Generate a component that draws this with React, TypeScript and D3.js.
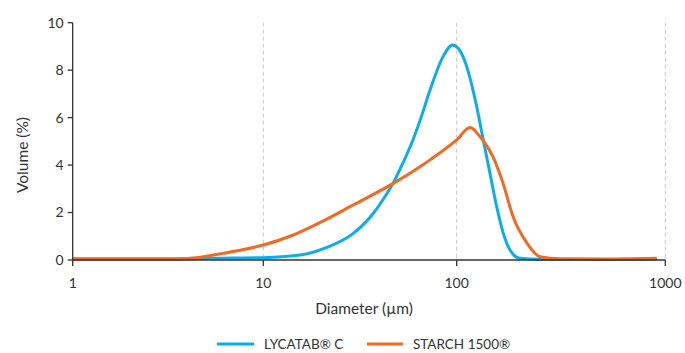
import React from "react";
import * as d3 from "d3";

const blueDiam = [1, 2.54, 4.66, 7.0, 10, 15.5, 21.3, 29.2, 37.1, 41.6, 47.0, 52.8, 59.4, 65.4, 72.8, 85.0, 95.3, 107.2, 111.7, 124.7, 134.1, 144.4, 155.5, 167.3, 180.1, 201.2, 250.7, 486, 912];
const blueVol = [0.05, 0.05, 0.06, 0.08, 0.1, 0.21, 0.53, 1.12, 1.97, 2.55, 3.25, 4.1, 5.06, 6.0, 7.16, 8.57, 9.06, 8.57, 8.15, 6.46, 5.06, 3.65, 2.25, 1.12, 0.42, 0.07, 0.03, 0.02, 0.03];

const orangeDiam = [1, 2.54, 3.24, 4.12, 4.94, 6.15, 8.0, 10, 13.74, 19.65, 29.2, 47.0, 64.6, 72.8, 100, 115.8, 129.3, 149.3, 166.7, 186.2, 217.3, 250.7, 313, 486, 910];
const orangeVol = [0.03, 0.03, 0.03, 0.07, 0.15, 0.28, 0.45, 0.63, 1.0, 1.58, 2.32, 3.23, 3.93, 4.22, 5.06, 5.58, 5.2, 4.35, 3.24, 1.83, 0.71, 0.14, 0.05, 0.04, 0.07];

const xTicks = [1, 10, 100, 1000];
const yTicks = [0, 2, 4, 6, 8, 10];
const seriesNames = ["LYCATAB® C", "STARCH 1500®"];
const colors = ["#0BAEE8", "#F26A22"];

const W = 685;
const H = 353;
const FONT = "Lato, 'Open Sans', sans-serif";

export default function App() {
  const x = d3.scaleLog().domain([1, 10, 100, 1000]).range([72.7, 263.3, 456.7, 665.3]);
  const y = d3.scaleLinear().domain([0, 10]).range([260, 22.7]);

  const line = d3
    .line<[number, number]>()
    .x((d) => x(d[0]))
    .y((d) => y(d[1]))
    .curve(d3.curveMonotoneX);

  const blue = blueDiam.map((d, i) => [d, blueVol[i]] as [number, number]);
  const orange = orangeDiam.map((d, i) => [d, orangeVol[i]] as [number, number]);

  const axisColor = "#333";
  const textColor = "#333";

  return (
    <svg width={W} height={H} style={{ position: "absolute", left: 0, top: 0, background: "#fff" }}>
      {xTicks.slice(1).map((t) => (
        <line key={"g" + t} x1={x(t)} x2={x(t)} y1={y(10)} y2={y(0)} stroke="#c8c8c8" strokeWidth={1} strokeDasharray="4,3" />
      ))}
      <path d={line(blue) || ""} fill="none" stroke={colors[0]} strokeWidth={3} strokeLinejoin="round" />
      <path d={line(orange) || ""} fill="none" stroke={colors[1]} strokeWidth={3} strokeLinejoin="round" />
      <line x1={x(1)} x2={x(1)} y1={y(10)} y2={y(0)} stroke={axisColor} strokeWidth={1.3} />
      <line x1={x(1)} x2={x(1000)} y1={y(0)} y2={y(0)} stroke={axisColor} strokeWidth={1.3} />
      {yTicks.map((t) => (
        <g key={"y" + t}>
          <line x1={x(1) - 5} x2={x(1)} y1={y(t)} y2={y(t)} stroke={axisColor} strokeWidth={1.3} />
          <text x={x(1) - 9} y={y(t)} dy="0.35em" textAnchor="end" fontSize={14} fontFamily={FONT} fill={textColor}>
            {t}
          </text>
        </g>
      ))}
      {xTicks.map((t) => (
        <g key={"x" + t}>
          <line x1={x(t)} x2={x(t)} y1={y(0)} y2={y(0) + 6} stroke={axisColor} strokeWidth={1.3} />
          <text x={x(t)} y={288} textAnchor="middle" fontSize={14} fontFamily={FONT} fill={textColor}>
            {t}
          </text>
        </g>
      ))}
      <text x={364} y={314} textAnchor="middle" fontSize={15.5} fontFamily={FONT} fill={textColor}>
        Diameter (µm)
      </text>
      <text transform="translate(28,155) rotate(-90)" textAnchor="middle" fontSize={15.5} fontFamily={FONT} fill={textColor}>
        Volume (%)
      </text>
      <line x1={217} x2={254} y1={344} y2={344} stroke={colors[0]} strokeWidth={3} />
      <text x={264} y={349} fontSize={13.5} fontFamily={FONT} fill={textColor}>
        {seriesNames[0]}
      </text>
      <line x1={367} x2={403} y1={344} y2={344} stroke={colors[1]} strokeWidth={3} />
      <text x={413} y={349} fontSize={13.5} fontFamily={FONT} fill={textColor}>
        {seriesNames[1]}
      </text>
    </svg>
  );
}
